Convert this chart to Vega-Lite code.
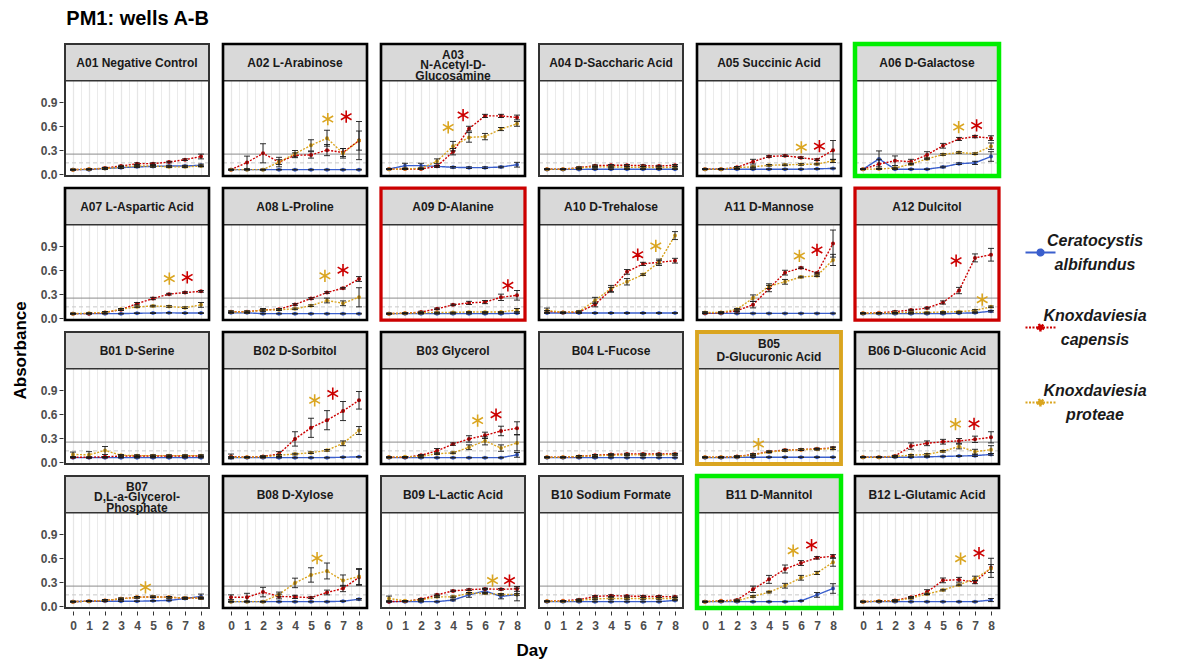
{
  "$schema": "https://vega.github.io/schema/vega-lite/v6.json",
  "padding": {"left": 12, "top": 8, "right": 5, "bottom": 5},
  "title": {"text": "PM1: wells A-B", "anchor": "start", "fontSize": 20, "font": "Liberation Sans", "fontWeight": "bold", "color": "#000000", "offset": 13, "dx": 54},
  "vconcat": [{
  "data": {"values": [
    {"kind": "panel", "id": "A01", "lab": "A01 Negative Control", "cls": "none"},
    {"kind": "panel", "id": "A02", "lab": "A02 L-Arabinose", "cls": "common"},
    {"kind": "panel", "id": "A03", "lab": "A03\nN-Acetyl-D-\nGlucosamine", "cls": "common"},
    {"kind": "panel", "id": "A04", "lab": "A04 D-Saccharic Acid", "cls": "none"},
    {"kind": "panel", "id": "A05", "lab": "A05 Succinic Acid", "cls": "common"},
    {"kind": "panel", "id": "A06", "lab": "A06 D-Galactose", "cls": "shared"},
    {"kind": "panel", "id": "A07", "lab": "A07 L-Aspartic Acid", "cls": "common"},
    {"kind": "panel", "id": "A08", "lab": "A08 L-Proline", "cls": "common"},
    {"kind": "panel", "id": "A09", "lab": "A09 D-Alanine", "cls": "capensis"},
    {"kind": "panel", "id": "A10", "lab": "A10 D-Trehalose", "cls": "common"},
    {"kind": "panel", "id": "A11", "lab": "A11 D-Mannose", "cls": "common"},
    {"kind": "panel", "id": "A12", "lab": "A12 Dulcitol", "cls": "capensis"},
    {"kind": "panel", "id": "B01", "lab": "B01 D-Serine", "cls": "none"},
    {"kind": "panel", "id": "B02", "lab": "B02 D-Sorbitol", "cls": "common"},
    {"kind": "panel", "id": "B03", "lab": "B03 Glycerol", "cls": "common"},
    {"kind": "panel", "id": "B04", "lab": "B04 L-Fucose", "cls": "none"},
    {"kind": "panel", "id": "B05", "lab": "B05\nD-Glucuronic Acid", "cls": "proteae"},
    {"kind": "panel", "id": "B06", "lab": "B06 D-Gluconic Acid", "cls": "common"},
    {"kind": "panel", "id": "B07", "lab": "B07\nD,L-a-Glycerol-\nPhosphate", "cls": "none"},
    {"kind": "panel", "id": "B08", "lab": "B08 D-Xylose", "cls": "common"},
    {"kind": "panel", "id": "B09", "lab": "B09 L-Lactic Acid", "cls": "none"},
    {"kind": "panel", "id": "B10", "lab": "B10 Sodium Formate", "cls": "none"},
    {"kind": "panel", "id": "B11", "lab": "B11 D-Mannitol", "cls": "shared"},
    {"kind": "panel", "id": "B12", "lab": "B12 L-Glutamic Acid", "cls": "common"},

    {"kind": "obs", "id": "A01", "s": "Ceratocystis albifundus", "d": [0,1,2,3,4,5,6,7,8], "v": [0.055,0.055,0.07,0.08,0.09,0.095,0.1,0.1,0.11], "e": [0.005,0.005,0.01,0.01,0.01,0.01,0.01,0.01,0.015]},
    {"kind": "obs", "id": "A01", "s": "Knoxdaviesia capensis", "d": [0,1,2,3,4,5,6,7,8], "v": [0.055,0.06,0.075,0.1,0.13,0.13,0.15,0.18,0.22], "e": [0.005,0.005,0.01,0.01,0.01,0.01,0.01,0.01,0.03]},
    {"kind": "obs", "id": "A01", "s": "Knoxdaviesia proteae", "d": [0,1,2,3,4,5,6,7,8], "v": [0.055,0.06,0.07,0.085,0.1,0.1,0.09,0.09,0.1], "e": [0.005,0.005,0.01,0.01,0.01,0.01,0.01,0.01,0.01]},

    {"kind": "obs", "id": "A02", "s": "Ceratocystis albifundus", "d": [0,1,2,3,4,5,6,7,8], "v": [0.055,0.055,0.055,0.055,0.055,0.055,0.055,0.055,0.055], "e": [0.005,0.005,0.005,0.005,0.005,0.005,0.005,0.005,0.005]},
    {"kind": "obs", "id": "A02", "s": "Knoxdaviesia capensis", "d": [0,1,2,3,4,5,6,7,8], "v": [0.055,0.145,0.26,0.15,0.235,0.24,0.3,0.27,0.42], "e": [0.005,0.08,0.12,0.06,0.03,0.04,0.07,0.05,0.12]},
    {"kind": "obs", "id": "A02", "s": "Knoxdaviesia proteae", "d": [0,1,2,3,4,5,6,7,8], "v": [0.055,0.055,0.055,0.15,0.255,0.36,0.45,0.26,0.42], "e": [0.005,0.005,0.005,0.03,0.04,0.07,0.1,0.06,0.24]},

    {"kind": "obs", "id": "A03", "s": "Ceratocystis albifundus", "d": [0,1,2,3,4,5,6,7,8], "v": [0.063,0.105,0.105,0.096,0.084,0.08,0.08,0.088,0.117], "e": [0.005,0.03,0.03,0.01,0.01,0.01,0.01,0.01,0.03]},
    {"kind": "obs", "id": "A03", "s": "Knoxdaviesia capensis", "d": [0,1,2,3,4,5,6,7,8], "v": [0.06,0.063,0.063,0.096,0.28,0.57,0.73,0.73,0.71], "e": [0.005,0.005,0.005,0.01,0.04,0.03,0.02,0.02,0.03]},
    {"kind": "obs", "id": "A03", "s": "Knoxdaviesia proteae", "d": [0,1,2,3,4,5,6,7,8], "v": [0.06,0.065,0.07,0.16,0.35,0.46,0.47,0.565,0.63], "e": [0.005,0.005,0.005,0.03,0.06,0.06,0.04,0.02,0.03]},

    {"kind": "obs", "id": "A04", "s": "Ceratocystis albifundus", "d": [0,1,2,3,4,5,6,7,8], "v": [0.058,0.058,0.058,0.06,0.06,0.06,0.06,0.06,0.06], "e": [0.005,0.005,0.005,0.005,0.005,0.005,0.005,0.005,0.005]},
    {"kind": "obs", "id": "A04", "s": "Knoxdaviesia capensis", "d": [0,1,2,3,4,5,6,7,8], "v": [0.06,0.06,0.08,0.105,0.11,0.11,0.105,0.1,0.11], "e": [0.005,0.005,0.01,0.01,0.01,0.01,0.01,0.01,0.01]},
    {"kind": "obs", "id": "A04", "s": "Knoxdaviesia proteae", "d": [0,1,2,3,4,5,6,7,8], "v": [0.06,0.06,0.075,0.09,0.09,0.085,0.085,0.08,0.085], "e": [0.005,0.005,0.01,0.01,0.01,0.01,0.01,0.01,0.01]},

    {"kind": "obs", "id": "A05", "s": "Ceratocystis albifundus", "d": [0,1,2,3,4,5,6,7,8], "v": [0.06,0.06,0.06,0.06,0.06,0.06,0.06,0.065,0.07], "e": [0.005,0.005,0.005,0.005,0.005,0.005,0.005,0.005,0.005]},
    {"kind": "obs", "id": "A05", "s": "Knoxdaviesia capensis", "d": [0,1,2,3,4,5,6,7,8], "v": [0.06,0.06,0.084,0.155,0.22,0.23,0.205,0.18,0.3], "e": [0.005,0.005,0.01,0.03,0.01,0.01,0.01,0.01,0.12]},
    {"kind": "obs", "id": "A05", "s": "Knoxdaviesia proteae", "d": [0,1,2,3,4,5,6,7,8], "v": [0.06,0.06,0.08,0.09,0.11,0.115,0.12,0.125,0.165], "e": [0.005,0.005,0.01,0.01,0.01,0.01,0.01,0.01,0.02]},

    {"kind": "obs", "id": "A06", "s": "Ceratocystis albifundus", "d": [0,1,2,3,4,5,6,7,8], "v": [0.06,0.19,0.06,0.06,0.06,0.088,0.13,0.14,0.22], "e": [0.005,0.1,0.005,0.005,0.005,0.01,0.01,0.02,0.06]},
    {"kind": "obs", "id": "A06", "s": "Knoxdaviesia capensis", "d": [0,1,2,3,4,5,6,7,8], "v": [0.06,0.125,0.167,0.155,0.24,0.355,0.44,0.47,0.45], "e": [0.005,0.06,0.06,0.03,0.04,0.03,0.02,0.015,0.03]},
    {"kind": "obs", "id": "A06", "s": "Knoxdaviesia proteae", "d": [0,1,2,3,4,5,6,7,8], "v": [0.06,0.063,0.075,0.125,0.19,0.245,0.27,0.255,0.35], "e": [0.005,0.005,0.01,0.01,0.01,0.01,0.01,0.01,0.04]},

    {"kind": "obs", "id": "A07", "s": "Ceratocystis albifundus", "d": [0,1,2,3,4,5,6,7,8], "v": [0.055,0.055,0.055,0.055,0.06,0.062,0.065,0.062,0.062], "e": [0.005,0.005,0.005,0.005,0.005,0.005,0.005,0.005,0.005]},
    {"kind": "obs", "id": "A07", "s": "Knoxdaviesia capensis", "d": [0,1,2,3,4,5,6,7,8], "v": [0.055,0.055,0.07,0.105,0.18,0.245,0.3,0.32,0.335], "e": [0.005,0.005,0.01,0.01,0.015,0.015,0.01,0.01,0.01]},
    {"kind": "obs", "id": "A07", "s": "Knoxdaviesia proteae", "d": [0,1,2,3,4,5,6,7,8], "v": [0.055,0.06,0.07,0.11,0.14,0.15,0.145,0.13,0.165], "e": [0.005,0.005,0.01,0.01,0.01,0.01,0.01,0.01,0.03]},

    {"kind": "obs", "id": "A08", "s": "Ceratocystis albifundus", "d": [0,1,2,3,4,5,6,7,8], "v": [0.065,0.065,0.055,0.055,0.055,0.055,0.055,0.055,0.055], "e": [0.005,0.005,0.005,0.005,0.005,0.005,0.005,0.005,0.005]},
    {"kind": "obs", "id": "A08", "s": "Knoxdaviesia capensis", "d": [0,1,2,3,4,5,6,7,8], "v": [0.08,0.08,0.1,0.11,0.17,0.245,0.32,0.375,0.49], "e": [0.01,0.01,0.01,0.01,0.01,0.01,0.01,0.01,0.03]},
    {"kind": "obs", "id": "A08", "s": "Knoxdaviesia proteae", "d": [0,1,2,3,4,5,6,7,8], "v": [0.075,0.075,0.1,0.105,0.115,0.155,0.22,0.185,0.26], "e": [0.01,0.01,0.02,0.01,0.01,0.01,0.03,0.03,0.12]},

    {"kind": "obs", "id": "A09", "s": "Ceratocystis albifundus", "d": [0,1,2,3,4,5,6,7,8], "v": [0.055,0.055,0.055,0.055,0.055,0.055,0.055,0.055,0.06], "e": [0.005,0.005,0.005,0.005,0.005,0.005,0.005,0.005,0.005]},
    {"kind": "obs", "id": "A09", "s": "Knoxdaviesia capensis", "d": [0,1,2,3,4,5,6,7,8], "v": [0.055,0.06,0.075,0.115,0.165,0.19,0.2,0.26,0.285], "e": [0.005,0.005,0.01,0.01,0.01,0.02,0.02,0.04,0.06]},
    {"kind": "obs", "id": "A09", "s": "Knoxdaviesia proteae", "d": [0,1,2,3,4,5,6,7,8], "v": [0.055,0.06,0.065,0.07,0.07,0.075,0.075,0.075,0.1], "e": [0.005,0.005,0.005,0.005,0.005,0.005,0.005,0.005,0.02]},

    {"kind": "obs", "id": "A10", "s": "Ceratocystis albifundus", "d": [0,1,2,3,4,5,6,7,8], "v": [0.063,0.063,0.063,0.063,0.063,0.063,0.063,0.063,0.063], "e": [0.005,0.005,0.005,0.005,0.005,0.005,0.005,0.005,0.005]},
    {"kind": "obs", "id": "A10", "s": "Knoxdaviesia capensis", "d": [0,1,2,3,4,5,6,7,8], "v": [0.085,0.07,0.075,0.17,0.355,0.58,0.68,0.7,0.72], "e": [0.01,0.005,0.01,0.03,0.03,0.03,0.02,0.02,0.03]},
    {"kind": "obs", "id": "A10", "s": "Knoxdaviesia proteae", "d": [0,1,2,3,4,5,6,7,8], "v": [0.095,0.07,0.08,0.22,0.37,0.455,0.545,0.7,1.035], "e": [0.03,0.005,0.01,0.04,0.04,0.04,0.01,0.04,0.05]},

    {"kind": "obs", "id": "A11", "s": "Ceratocystis albifundus", "d": [0,1,2,3,4,5,6,7,8], "v": [0.058,0.058,0.058,0.058,0.058,0.058,0.058,0.058,0.058], "e": [0.005,0.005,0.005,0.005,0.005,0.005,0.005,0.005,0.005]},
    {"kind": "obs", "id": "A11", "s": "Knoxdaviesia capensis", "d": [0,1,2,3,4,5,6,7,8], "v": [0.06,0.065,0.092,0.167,0.37,0.57,0.63,0.565,0.935], "e": [0.005,0.005,0.01,0.04,0.04,0.03,0.01,0.01,0.17]},
    {"kind": "obs", "id": "A11", "s": "Knoxdaviesia proteae", "d": [0,1,2,3,4,5,6,7,8], "v": [0.07,0.07,0.11,0.25,0.4,0.455,0.515,0.53,0.73], "e": [0.01,0.01,0.01,0.04,0.03,0.03,0.01,0.01,0.07]},

    {"kind": "obs", "id": "A12", "s": "Ceratocystis albifundus", "d": [0,1,2,3,4,5,6,7,8], "v": [0.055,0.055,0.055,0.055,0.055,0.055,0.06,0.065,0.085], "e": [0.005,0.005,0.005,0.005,0.005,0.005,0.005,0.005,0.01]},
    {"kind": "obs", "id": "A12", "s": "Knoxdaviesia capensis", "d": [0,1,2,3,4,5,6,7,8], "v": [0.06,0.065,0.08,0.1,0.125,0.195,0.345,0.755,0.795], "e": [0.005,0.005,0.01,0.01,0.01,0.02,0.04,0.05,0.08]},
    {"kind": "obs", "id": "A12", "s": "Knoxdaviesia proteae", "d": [0,1,2,3,4,5,6,7,8], "v": [0.06,0.06,0.065,0.07,0.07,0.075,0.08,0.095,0.14], "e": [0.005,0.005,0.005,0.005,0.005,0.005,0.005,0.01,0.01]},

    {"kind": "obs", "id": "B01", "s": "Ceratocystis albifundus", "d": [0,1,2,3,4,5,6,7,8], "v": [0.055,0.055,0.055,0.055,0.055,0.055,0.055,0.055,0.055], "e": [0.005,0.005,0.005,0.005,0.005,0.005,0.005,0.005,0.005]},
    {"kind": "obs", "id": "B01", "s": "Knoxdaviesia capensis", "d": [0,1,2,3,4,5,6,7,8], "v": [0.06,0.06,0.065,0.075,0.075,0.075,0.075,0.075,0.075], "e": [0.005,0.005,0.005,0.01,0.01,0.01,0.01,0.01,0.01]},
    {"kind": "obs", "id": "B01", "s": "Knoxdaviesia proteae", "d": [0,1,2,3,4,5,6,7,8], "v": [0.095,0.09,0.145,0.085,0.08,0.08,0.08,0.08,0.08], "e": [0.03,0.04,0.05,0.01,0.01,0.01,0.01,0.01,0.01]},

    {"kind": "obs", "id": "B02", "s": "Ceratocystis albifundus", "d": [0,1,2,3,4,5,6,7,8], "v": [0.055,0.055,0.055,0.055,0.055,0.055,0.055,0.06,0.065], "e": [0.005,0.005,0.005,0.005,0.005,0.005,0.005,0.005,0.005]},
    {"kind": "obs", "id": "B02", "s": "Knoxdaviesia capensis", "d": [0,1,2,3,4,5,6,7,8], "v": [0.07,0.06,0.07,0.1,0.29,0.43,0.525,0.64,0.775], "e": [0.03,0.005,0.01,0.03,0.09,0.12,0.12,0.12,0.11]},
    {"kind": "obs", "id": "B02", "s": "Knoxdaviesia proteae", "d": [0,1,2,3,4,5,6,7,8], "v": [0.06,0.06,0.065,0.085,0.1,0.117,0.147,0.235,0.395], "e": [0.01,0.005,0.005,0.01,0.01,0.01,0.01,0.03,0.05]},

    {"kind": "obs", "id": "B03", "s": "Ceratocystis albifundus", "d": [0,1,2,3,4,5,6,7,8], "v": [0.055,0.055,0.055,0.055,0.055,0.055,0.055,0.055,0.09], "e": [0.005,0.005,0.005,0.005,0.005,0.005,0.005,0.005,0.03]},
    {"kind": "obs", "id": "B03", "s": "Knoxdaviesia capensis", "d": [0,1,2,3,4,5,6,7,8], "v": [0.06,0.06,0.085,0.14,0.225,0.29,0.335,0.39,0.425], "e": [0.005,0.005,0.01,0.03,0.015,0.04,0.04,0.06,0.08]},
    {"kind": "obs", "id": "B03", "s": "Knoxdaviesia proteae", "d": [0,1,2,3,4,5,6,7,8], "v": [0.06,0.065,0.07,0.105,0.115,0.185,0.265,0.175,0.24], "e": [0.005,0.005,0.01,0.01,0.01,0.03,0.05,0.04,0.1]},

    {"kind": "obs", "id": "B04", "s": "Ceratocystis albifundus", "d": [0,1,2,3,4,5,6,7,8], "v": [0.055,0.055,0.055,0.055,0.055,0.055,0.055,0.055,0.055], "e": [0.005,0.005,0.005,0.005,0.005,0.005,0.005,0.005,0.005]},
    {"kind": "obs", "id": "B04", "s": "Knoxdaviesia capensis", "d": [0,1,2,3,4,5,6,7,8], "v": [0.06,0.06,0.07,0.085,0.095,0.1,0.1,0.1,0.1], "e": [0.005,0.005,0.01,0.01,0.01,0.01,0.01,0.01,0.01]},
    {"kind": "obs", "id": "B04", "s": "Knoxdaviesia proteae", "d": [0,1,2,3,4,5,6,7,8], "v": [0.06,0.06,0.07,0.08,0.085,0.09,0.09,0.09,0.095], "e": [0.005,0.005,0.01,0.01,0.01,0.01,0.01,0.01,0.01]},

    {"kind": "obs", "id": "B05", "s": "Ceratocystis albifundus", "d": [0,1,2,3,4,5,6,7,8], "v": [0.055,0.055,0.058,0.06,0.06,0.06,0.06,0.06,0.06], "e": [0.005,0.005,0.005,0.005,0.005,0.005,0.005,0.005,0.005]},
    {"kind": "obs", "id": "B05", "s": "Knoxdaviesia capensis", "d": [0,1,2,3,4,5,6,7,8], "v": [0.06,0.06,0.07,0.095,0.13,0.15,0.155,0.165,0.175], "e": [0.005,0.005,0.01,0.01,0.01,0.01,0.01,0.01,0.015]},
    {"kind": "obs", "id": "B05", "s": "Knoxdaviesia proteae", "d": [0,1,2,3,4,5,6,7,8], "v": [0.06,0.06,0.065,0.09,0.125,0.145,0.155,0.16,0.17], "e": [0.005,0.005,0.005,0.01,0.01,0.01,0.01,0.01,0.015]},

    {"kind": "obs", "id": "B06", "s": "Ceratocystis albifundus", "d": [0,1,2,3,4,5,6,7,8], "v": [0.06,0.06,0.06,0.06,0.065,0.07,0.075,0.08,0.095], "e": [0.005,0.005,0.005,0.005,0.005,0.005,0.005,0.01,0.01]},
    {"kind": "obs", "id": "B06", "s": "Knoxdaviesia capensis", "d": [0,1,2,3,4,5,6,7,8], "v": [0.06,0.06,0.075,0.2,0.235,0.255,0.265,0.285,0.31], "e": [0.005,0.005,0.01,0.04,0.03,0.03,0.03,0.04,0.07]},
    {"kind": "obs", "id": "B06", "s": "Knoxdaviesia proteae", "d": [0,1,2,3,4,5,6,7,8], "v": [0.06,0.06,0.07,0.085,0.095,0.135,0.195,0.13,0.155], "e": [0.005,0.005,0.01,0.01,0.01,0.01,0.03,0.03,0.05]},

    {"kind": "obs", "id": "B07", "s": "Ceratocystis albifundus", "d": [0,1,2,3,4,5,6,7,8], "v": [0.055,0.06,0.06,0.06,0.06,0.065,0.07,0.095,0.12], "e": [0.005,0.005,0.005,0.005,0.005,0.005,0.005,0.01,0.03]},
    {"kind": "obs", "id": "B07", "s": "Knoxdaviesia capensis", "d": [0,1,2,3,4,5,6,7,8], "v": [0.055,0.06,0.07,0.09,0.11,0.115,0.11,0.1,0.1], "e": [0.005,0.005,0.01,0.01,0.01,0.01,0.01,0.01,0.01]},
    {"kind": "obs", "id": "B07", "s": "Knoxdaviesia proteae", "d": [0,1,2,3,4,5,6,7,8], "v": [0.055,0.06,0.07,0.09,0.11,0.115,0.11,0.1,0.1], "e": [0.005,0.005,0.01,0.01,0.01,0.01,0.01,0.01,0.01]},

    {"kind": "obs", "id": "B08", "s": "Ceratocystis albifundus", "d": [0,1,2,3,4,5,6,7,8], "v": [0.055,0.055,0.055,0.055,0.055,0.055,0.055,0.06,0.085], "e": [0.005,0.005,0.005,0.005,0.005,0.005,0.005,0.005,0.01]},
    {"kind": "obs", "id": "B08", "s": "Knoxdaviesia capensis", "d": [0,1,2,3,4,5,6,7,8], "v": [0.11,0.11,0.175,0.12,0.115,0.105,0.17,0.22,0.36], "e": [0.03,0.05,0.06,0.03,0.02,0.01,0.03,0.04,0.1]},
    {"kind": "obs", "id": "B08", "s": "Knoxdaviesia proteae", "d": [0,1,2,3,4,5,6,7,8], "v": [0.055,0.055,0.055,0.145,0.29,0.39,0.44,0.32,0.37], "e": [0.005,0.005,0.005,0.03,0.06,0.09,0.1,0.07,0.1]},

    {"kind": "obs", "id": "B09", "s": "Ceratocystis albifundus", "d": [0,1,2,3,4,5,6,7,8], "v": [0.055,0.055,0.055,0.055,0.075,0.14,0.19,0.12,0.145], "e": [0.005,0.005,0.005,0.005,0.01,0.03,0.03,0.03,0.08]},
    {"kind": "obs", "id": "B09", "s": "Knoxdaviesia capensis", "d": [0,1,2,3,4,5,6,7,8], "v": [0.055,0.06,0.085,0.14,0.19,0.205,0.215,0.21,0.215], "e": [0.005,0.005,0.01,0.01,0.01,0.01,0.01,0.01,0.03]},
    {"kind": "obs", "id": "B09", "s": "Knoxdaviesia proteae", "d": [0,1,2,3,4,5,6,7,8], "v": [0.095,0.065,0.075,0.115,0.115,0.16,0.16,0.145,0.145], "e": [0.03,0.005,0.01,0.01,0.01,0.01,0.01,0.01,0.01]},

    {"kind": "obs", "id": "B10", "s": "Ceratocystis albifundus", "d": [0,1,2,3,4,5,6,7,8], "v": [0.055,0.055,0.055,0.055,0.055,0.055,0.055,0.055,0.07], "e": [0.005,0.005,0.005,0.005,0.005,0.005,0.005,0.005,0.005]},
    {"kind": "obs", "id": "B10", "s": "Knoxdaviesia capensis", "d": [0,1,2,3,4,5,6,7,8], "v": [0.06,0.065,0.08,0.12,0.13,0.125,0.12,0.12,0.115], "e": [0.005,0.005,0.01,0.01,0.01,0.01,0.01,0.01,0.01]},
    {"kind": "obs", "id": "B10", "s": "Knoxdaviesia proteae", "d": [0,1,2,3,4,5,6,7,8], "v": [0.06,0.06,0.07,0.09,0.095,0.095,0.095,0.095,0.095], "e": [0.005,0.005,0.01,0.01,0.01,0.01,0.01,0.01,0.01]},

    {"kind": "obs", "id": "B11", "s": "Ceratocystis albifundus", "d": [0,1,2,3,4,5,6,7,8], "v": [0.055,0.055,0.055,0.055,0.055,0.055,0.065,0.14,0.22], "e": [0.005,0.005,0.005,0.005,0.005,0.005,0.005,0.03,0.06]},
    {"kind": "obs", "id": "B11", "s": "Knoxdaviesia capensis", "d": [0,1,2,3,4,5,6,7,8], "v": [0.055,0.065,0.075,0.21,0.335,0.465,0.54,0.605,0.625], "e": [0.005,0.005,0.01,0.04,0.05,0.05,0.03,0.015,0.02]},
    {"kind": "obs", "id": "B11", "s": "Knoxdaviesia proteae", "d": [0,1,2,3,4,5,6,7,8], "v": [0.055,0.06,0.065,0.12,0.175,0.255,0.355,0.415,0.55], "e": [0.005,0.005,0.005,0.01,0.01,0.03,0.03,0.02,0.05]},

    {"kind": "obs", "id": "B12", "s": "Ceratocystis albifundus", "d": [0,1,2,3,4,5,6,7,8], "v": [0.055,0.055,0.055,0.055,0.055,0.055,0.055,0.055,0.075], "e": [0.005,0.005,0.005,0.005,0.005,0.005,0.005,0.005,0.02]},
    {"kind": "obs", "id": "B12", "s": "Knoxdaviesia capensis", "d": [0,1,2,3,4,5,6,7,8], "v": [0.055,0.06,0.07,0.11,0.175,0.322,0.33,0.3,0.48], "e": [0.005,0.005,0.01,0.01,0.03,0.03,0.03,0.02,0.12]},
    {"kind": "obs", "id": "B12", "s": "Knoxdaviesia proteae", "d": [0,1,2,3,4,5,6,7,8], "v": [0.055,0.06,0.065,0.1,0.15,0.2,0.265,0.345,0.47], "e": [0.005,0.005,0.005,0.01,0.01,0.01,0.01,0.03,0.05]},

    {"kind": "sig", "id": "A02", "s": "Knoxdaviesia proteae", "ad": 6.05, "av": 0.69},
    {"kind": "sig", "id": "A02", "s": "Knoxdaviesia capensis", "ad": 7.2, "av": 0.72},
    {"kind": "sig", "id": "A03", "s": "Knoxdaviesia proteae", "ad": 3.7, "av": 0.585},
    {"kind": "sig", "id": "A03", "s": "Knoxdaviesia capensis", "ad": 4.63, "av": 0.74},
    {"kind": "sig", "id": "A05", "s": "Knoxdaviesia proteae", "ad": 6.02, "av": 0.335},
    {"kind": "sig", "id": "A05", "s": "Knoxdaviesia capensis", "ad": 7.15, "av": 0.35},
    {"kind": "sig", "id": "A06", "s": "Knoxdaviesia proteae", "ad": 5.98, "av": 0.59},
    {"kind": "sig", "id": "A06", "s": "Knoxdaviesia capensis", "ad": 7.1, "av": 0.61},
    {"kind": "sig", "id": "A07", "s": "Knoxdaviesia proteae", "ad": 6.02, "av": 0.495},
    {"kind": "sig", "id": "A07", "s": "Knoxdaviesia capensis", "ad": 7.14, "av": 0.51},
    {"kind": "sig", "id": "A08", "s": "Knoxdaviesia proteae", "ad": 5.87, "av": 0.53},
    {"kind": "sig", "id": "A08", "s": "Knoxdaviesia capensis", "ad": 7.0, "av": 0.6},
    {"kind": "sig", "id": "A09", "s": "Knoxdaviesia capensis", "ad": 7.43, "av": 0.41},
    {"kind": "sig", "id": "A10", "s": "Knoxdaviesia capensis", "ad": 5.67, "av": 0.795},
    {"kind": "sig", "id": "A10", "s": "Knoxdaviesia proteae", "ad": 6.8, "av": 0.905},
    {"kind": "sig", "id": "A11", "s": "Knoxdaviesia proteae", "ad": 5.9, "av": 0.78},
    {"kind": "sig", "id": "A11", "s": "Knoxdaviesia capensis", "ad": 7.0, "av": 0.855},
    {"kind": "sig", "id": "A12", "s": "Knoxdaviesia capensis", "ad": 5.82, "av": 0.72},
    {"kind": "sig", "id": "A12", "s": "Knoxdaviesia proteae", "ad": 7.45, "av": 0.23},
    {"kind": "sig", "id": "B02", "s": "Knoxdaviesia proteae", "ad": 5.23, "av": 0.775},
    {"kind": "sig", "id": "B02", "s": "Knoxdaviesia capensis", "ad": 6.36, "av": 0.86},
    {"kind": "sig", "id": "B03", "s": "Knoxdaviesia proteae", "ad": 5.54, "av": 0.52},
    {"kind": "sig", "id": "B03", "s": "Knoxdaviesia capensis", "ad": 6.69, "av": 0.594},
    {"kind": "sig", "id": "B05", "s": "Knoxdaviesia proteae", "ad": 3.34, "av": 0.225},
    {"kind": "sig", "id": "B06", "s": "Knoxdaviesia proteae", "ad": 5.78, "av": 0.477},
    {"kind": "sig", "id": "B06", "s": "Knoxdaviesia capensis", "ad": 6.94, "av": 0.48},
    {"kind": "sig", "id": "B07", "s": "Knoxdaviesia proteae", "ad": 4.53, "av": 0.235},
    {"kind": "sig", "id": "B08", "s": "Knoxdaviesia proteae", "ad": 5.38, "av": 0.6},
    {"kind": "sig", "id": "B09", "s": "Knoxdaviesia proteae", "ad": 6.47, "av": 0.32},
    {"kind": "sig", "id": "B09", "s": "Knoxdaviesia capensis", "ad": 7.53, "av": 0.32},
    {"kind": "sig", "id": "B11", "s": "Knoxdaviesia proteae", "ad": 5.51, "av": 0.695},
    {"kind": "sig", "id": "B11", "s": "Knoxdaviesia capensis", "ad": 6.66, "av": 0.765},
    {"kind": "sig", "id": "B12", "s": "Knoxdaviesia proteae", "ad": 6.1, "av": 0.595},
    {"kind": "sig", "id": "B12", "s": "Knoxdaviesia capensis", "ad": 7.25, "av": 0.665}
  ]},
  "title": {"text": "Absorbance", "orient": "left", "anchor": "middle", "fontSize": 17, "font": "Liberation Sans", "fontWeight": "bold", "color": "#000000", "offset": 10},
  "facet": {"field": "id", "type": "nominal", "header": {"title": "Day", "titleOrient": "bottom", "titleFontSize": 17, "titleFont": "Liberation Sans", "titleFontWeight": "bold", "titleColor": "#000000", "titlePadding": 12, "labels": false, "labelExpr": "''", "labelFontSize": 0, "labelPadding": 0}},
  "columns": 6,
  "spacing": {"row": 6, "column": 8},
  "spec": {
    "width": 144,
    "height": 132,
    "layer": [
      {
        "transform": [{"filter": "datum.kind === 'panel'"}],
        "mark": {"type": "rule", "color": "#8C8C8C", "strokeWidth": 1},
        "encoding": {"y": {"datum": 0.25, "type": "quantitative"}}
      },
      {
        "transform": [{"filter": "datum.kind === 'panel'"}],
        "mark": {"type": "rule", "color": "#C8C8C8", "strokeWidth": 1, "strokeDash": [4, 3]},
        "encoding": {"y": {"datum": 0.14, "type": "quantitative"}}
      },
      {
        "transform": [{"filter": "datum.kind === 'obs'"}, {"flatten": ["d", "v", "e"]}],
        "mark": {"type": "line", "strokeWidth": 1.4},
        "encoding": {
          "x": {"field": "d", "type": "quantitative", "title": null,
                "scale": {"domain": [-0.5, 8.5], "nice": false, "zero": false},
                "axis": {"values": [0, 0.5, 1, 1.5, 2, 2.5, 3, 3.5, 4, 4.5, 5, 5.5, 6, 6.5, 7, 7.5, 8], "tickCount": 40,
                         "labelExpr": "datum.value % 1 === 0 ? format(datum.value, 'd') : ''",
                         "labelOverlap": false, "labelSeparation": 0, "labelPadding": 5,
                         "ticks": true, "tickSize": 4, "tickColor": "#333333",
                         "tickOpacity": {"condition": {"test": "datum.value % 1 !== 0", "value": 0}, "value": 1},
                         "gridWidth": {"condition": {"test": "datum.value % 1 !== 0", "value": 0.8}, "value": 1.3}}},
          "y": {"field": "v", "type": "quantitative", "title": null,
                "scale": {"domain": [-0.025, 1.633], "nice": false, "zero": false},
                "axis": {"values": [0, 0.15, 0.3, 0.45, 0.6, 0.75, 0.9, 1.05], "tickCount": 40,
                         "labelExpr": "abs(datum.value * 10 / 3 - round(datum.value * 10 / 3)) < 0.01 ? format(datum.value, '.1f') : ''",
                         "labelOverlap": false, "labelPadding": 2,
                         "ticks": true, "tickSize": 4, "tickColor": "#333333",
                         "tickOpacity": {"condition": {"test": "abs(datum.value * 10 / 3 - round(datum.value * 10 / 3)) > 0.01", "value": 0}, "value": 1},
                         "gridWidth": {"condition": {"test": "abs(datum.value * 10 / 3 - round(datum.value * 10 / 3)) > 0.01", "value": 0.8}, "value": 1.3}}},
          "color": {"field": "s", "type": "nominal",
                    "scale": {"domain": ["Ceratocystis albifundus", "Knoxdaviesia capensis", "Knoxdaviesia proteae"], "range": ["#3A5FCD", "#CC0000", "#DAA520"]},
                    "legend": {"orient": "none", "legendX": 959, "legendY": 192, "title": null, "padding": 0,
                               "symbolType": "M-1,0L1,0M-0.2,0A0.2,0.2,0,1,0,0.2,0A0.2,0.2,0,1,0,-0.2,0",
                               "symbolSize": 900, "symbolStrokeWidth": 2.2,
                               "labelExpr": "split(datum.label, ' ')",
                               "labelFont": "Liberation Sans", "labelFontSize": 16, "labelFontWeight": "bold", "labelFontStyle": "italic",
                               "labelColor": "#1A1A1A", "labelAlign": "center", "labelBaseline": "middle", "labelOffset": 38, "labelLimit": 300,
                               "rowPadding": 34,
                               "encode": {
                                 "symbols": {"update": {"strokeDash": {"signal": "datum.value === 'Ceratocystis albifundus' ? [1, 0] : [2, 1.5]"}}},
                                 "labels": {"update": {"dy": {"value": -12}, "lineHeight": {"value": 24}}}
                               }}},
          "strokeDash": {"field": "s", "type": "nominal", "legend": null,
                         "scale": {"domain": ["Ceratocystis albifundus", "Knoxdaviesia capensis", "Knoxdaviesia proteae"], "range": [[1, 0], [2, 1.5], [2, 1.5]]}}
        }
      },
      {
        "transform": [{"filter": "datum.kind === 'obs'"}, {"flatten": ["d", "v", "e"]}],
        "mark": {"type": "point", "filled": true, "size": 16, "opacity": 1},
        "encoding": {
          "x": {"field": "d", "type": "quantitative"},
          "y": {"field": "v", "type": "quantitative"},
          "color": {"field": "s", "type": "nominal", "legend": null}
        }
      },
      {
        "transform": [{"filter": "datum.kind === 'obs'"}, {"flatten": ["d", "v", "e"]},
                      {"calculate": "datum.v - datum.e", "as": "lo"}, {"calculate": "datum.v + datum.e", "as": "hi"}],
        "mark": {"type": "rule", "color": "#1A1A1A", "strokeWidth": 0.9},
        "encoding": {
          "x": {"field": "d", "type": "quantitative"},
          "y": {"field": "lo", "type": "quantitative"},
          "y2": {"field": "hi"}
        }
      },
      {
        "transform": [{"filter": "datum.kind === 'obs'"}, {"flatten": ["d", "v", "e"]},
                      {"calculate": "datum.v - datum.e", "as": "lo"}],
        "mark": {"type": "tick", "orient": "horizontal", "color": "#1A1A1A", "size": 6, "thickness": 0.9, "opacity": 1},
        "encoding": {
          "x": {"field": "d", "type": "quantitative"},
          "y": {"field": "lo", "type": "quantitative"}
        }
      },
      {
        "transform": [{"filter": "datum.kind === 'obs'"}, {"flatten": ["d", "v", "e"]},
                      {"calculate": "datum.v + datum.e", "as": "hi"}],
        "mark": {"type": "tick", "orient": "horizontal", "color": "#1A1A1A", "size": 6, "thickness": 0.9, "opacity": 1},
        "encoding": {
          "x": {"field": "d", "type": "quantitative"},
          "y": {"field": "hi", "type": "quantitative"}
        }
      },
      {
        "transform": [{"filter": "datum.kind === 'sig'"}],
        "mark": {"type": "point", "shape": "M0,-1L0,1M-0.87,-0.5L0.87,0.5M-0.87,0.5L0.87,-0.5", "filled": false, "strokeWidth": 1.6, "size": 150, "opacity": 1},
        "encoding": {
          "x": {"field": "ad", "type": "quantitative"},
          "y": {"field": "av", "type": "quantitative"},
          "color": {"field": "s", "type": "nominal", "legend": null}
        }
      },
      {
        "transform": [{"filter": "datum.kind === 'panel'"}],
        "mark": {"type": "rect", "fill": "#D9D9D9", "stroke": "#333333", "strokeWidth": 1.4},
        "encoding": {
          "x": {"datum": -0.5, "type": "quantitative"}, "x2": {"datum": 8.5},
          "y": {"datum": 1.172, "type": "quantitative"}, "y2": {"datum": 1.633}
        }
      },
      {
        "transform": [{"filter": "datum.kind === 'panel' && indexof(datum.lab, '\\n') < 0"}],
        "mark": {"type": "text", "font": "Liberation Sans", "fontSize": 12, "fontWeight": "bold", "color": "#1A1A1A", "baseline": "middle", "align": "center"},
        "encoding": {
          "x": {"datum": 4, "type": "quantitative"},
          "y": {"datum": 1.4, "type": "quantitative"},
          "text": {"field": "lab"}
        }
      },
      {
        "transform": [{"filter": "datum.kind === 'panel' && length(split(datum.lab, '\\n')) === 2"}],
        "mark": {"type": "text", "font": "Liberation Sans", "fontSize": 12, "fontWeight": "bold", "color": "#1A1A1A", "lineBreak": "\n", "lineHeight": 13, "baseline": "middle", "align": "center"},
        "encoding": {
          "x": {"datum": 4, "type": "quantitative"},
          "y": {"datum": 1.485, "type": "quantitative"},
          "text": {"field": "lab"}
        }
      },
      {
        "transform": [{"filter": "datum.kind === 'panel' && length(split(datum.lab, '\\n')) === 3"}],
        "mark": {"type": "text", "font": "Liberation Sans", "fontSize": 12, "fontWeight": "bold", "color": "#1A1A1A", "lineBreak": "\n", "lineHeight": 10.5, "baseline": "middle", "align": "center"},
        "encoding": {
          "x": {"datum": 4, "type": "quantitative"},
          "y": {"datum": 1.5, "type": "quantitative"},
          "text": {"field": "lab"}
        }
      },
      {
        "transform": [{"filter": "datum.kind === 'panel'"}],
        "mark": {"type": "rect", "filled": false},
        "encoding": {
          "x": {"datum": -0.5, "type": "quantitative"}, "x2": {"datum": 8.5},
          "y": {"datum": -0.025, "type": "quantitative"}, "y2": {"datum": 1.633},
          "stroke": {"field": "cls", "type": "nominal", "legend": null,
                     "scale": {"domain": ["none", "common", "capensis", "proteae", "shared"], "range": ["#333333", "#000000", "#CC0000", "#DAA520", "#00EE00"]}},
          "strokeWidth": {"field": "cls", "type": "nominal", "legend": null,
                          "scale": {"domain": ["none", "common", "capensis", "proteae", "shared"], "range": [2, 4.5, 4, 4, 4]}}
        }
      }
    ]
  }
  }],
  "config": {
    "view": {"stroke": null},
    "font": "Liberation Sans",
    "axis": {
      "domain": false,
      "gridColor": "#E6E6E6",
      "labelFont": "Liberation Sans",
      "labelFontSize": 12,
      "labelFontWeight": "bold",
      "labelColor": "#4D4D4D",
      "titleFont": "Liberation Sans",
      "titleFontSize": 17,
      "titleFontWeight": "bold",
      "titleColor": "#000000"
    },
    "axisX": {"labelOverlap": false, "labelSeparation": 0}
  }
}
